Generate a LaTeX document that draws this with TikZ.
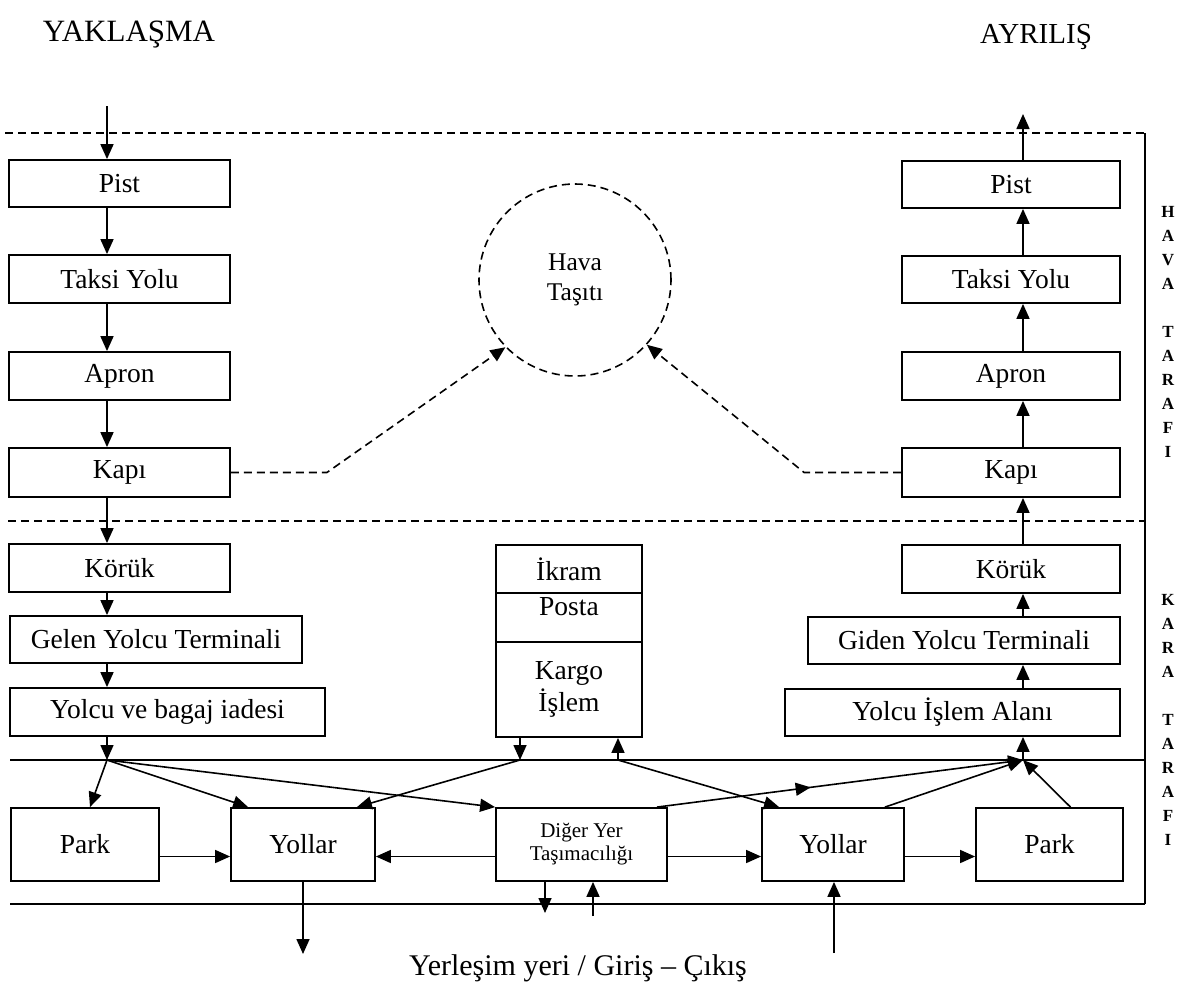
\documentclass[tikz,border=0pt]{standalone}
\usepackage{fontspec}
\setmainfont{Liberation Serif}
\usetikzlibrary{arrows.meta,calc,decorations.markings}
\begin{document}
\begin{tikzpicture}[x=1pt,y=-1pt,
  box/.style={draw, line width=1.8pt, inner sep=0pt, align=center,
    font=\fontsize{27.5}{32}\selectfont},
  plain/.style={inner sep=0pt, align=center, font=\fontsize{27.5}{32}\selectfont},
  frame/.style={line width=1.6pt},
  dashline/.style={line width=1.6pt, dash pattern=on 8pt off 5pt},
  tip/.style={-{Triangle[length=15pt,width=13pt]}},
  conn/.style={line width=1.6pt, tip},
  dashconn/.style={line width=1.6pt, dash pattern=on 8pt off 5pt, tip},
  midarrow/.style={postaction={decorate},
    decoration={markings, mark=at position 0.42 with {\arrow{Triangle[length=15pt,width=13pt]}}}},
  side/.style={inner sep=0pt, align=center, font=\fontsize{17}{24}\selectfont\bfseries},
]
\useasboundingbox (0,0) rectangle (1187,989);

% headings
\node[plain, font=\fontsize{31}{34}\selectfont] (yaklasma) at (129,35) {YAKLAŞMA};
\node[plain, font=\fontsize{29}{32}\selectfont] (ayrilis) at (1036,37) {AYRILIŞ};

% zone boundaries
\draw[dashline] (5,133) -- (1145,133);
\draw[frame] (1145,133) -- (1145,904);
\draw[dashline] (8,521) -- (1145,521);
\draw[frame] (10,760) -- (1145,760);
\draw[frame] (10,904) -- (1145,904);

% side labels
\node[side] (hava) at (1168,332) {H\\A\\V\\A\\\mbox{}\\T\\A\\R\\A\\F\\I};
\node[side] (kara) at (1168,720) {K\\A\\R\\A\\\mbox{}\\T\\A\\R\\A\\F\\I};

% arrival column
\node[box, minimum width=221, minimum height=47] (pistL)  at (119.5,183.5) {Pist};
\node[box, minimum width=221, minimum height=48] (taksiL) at (119.5,279) {Taksi Yolu};
\node[box, minimum width=221, minimum height=48] (apronL) at (119.5,376) {Apron};
\node[box, minimum width=221, minimum height=49] (kapiL)  at (119.5,472.5) {Kapı};
\node[box, minimum width=221, minimum height=48] (korukL) at (119.5,568) {Körük};
\node[box, minimum width=292, minimum height=47] (gelen)  at (156,639.5) {Gelen Yolcu Terminali};
\node[box, minimum width=315, minimum height=48] (yolcuL) at (167.5,712) {Yolcu ve bagaj iadesi};

% departure column
\node[box, minimum width=218, minimum height=47] (pistR)  at (1011,184.5) {Pist};
\node[box, minimum width=218, minimum height=47] (taksiR) at (1011,279.5) {Taksi Yolu};
\node[box, minimum width=218, minimum height=48] (apronR) at (1011,376) {Apron};
\node[box, minimum width=218, minimum height=49] (kapiR)  at (1011,472.5) {Kapı};
\node[box, minimum width=218, minimum height=48] (korukR) at (1011,569) {Körük};
\node[box, minimum width=312, minimum height=47] (giden)  at (964,640.5) {Giden Yolcu Terminali};
\node[box, minimum width=335, minimum height=47] (yolcuR) at (952.5,712.5) {Yolcu İşlem Alanı};

% central stack
\node[box, minimum width=146, minimum height=48] (ikram) at (569,569) {İkram};
\node[box, minimum width=146, minimum height=49] (posta) at (569,617.5) {};
\node[plain] (postaTxt) at (569,607) {Posta};
\node[box, minimum width=146, minimum height=95] (kargo) at (569,689.5) {Kargo\\İşlem};

% aircraft
\node[circle, draw, line width=1.6pt, dash pattern=on 8pt off 5pt, minimum size=192,
      inner sep=0pt, align=center, font=\fontsize{25.5}{30}\selectfont] (circ) at (575,280) {Hava\\Taşıtı};

% ground row
\node[box, minimum width=148, minimum height=73] (parkL)   at (85,844.5) {Park};
\node[box, minimum width=144, minimum height=73] (yollarL) at (303,844.5) {Yollar};
\node[box, minimum width=171, minimum height=73, font=\fontsize{21}{23}\selectfont] (diger) at (581.5,844.5) {Diğer Yer\\Taşımacılığı};
\node[box, minimum width=142, minimum height=73] (yollarR) at (833,844.5) {Yollar};
\node[box, minimum width=147, minimum height=73] (parkR)   at (1049.5,844.5) {Park};

\node[plain, font=\fontsize{30}{32}\selectfont] (yerlesim) at (578,968) {Yerleşim yeri / Giriş – Çıkış};

% reference points
\coordinate (axL) at (107,0);
\coordinate (axR) at (1023,0);
\coordinate (topL) at (107,106);
\coordinate (topR) at (1023,114);
\coordinate (jL) at (107,760);
\coordinate (jC1) at (520,760);
\coordinate (jC2) at (618,760);
\coordinate (jR) at (1023,760);
\coordinate (outYL) at (303,954);
\coordinate (dgDown) at (545,913);
\coordinate (dgUp) at (593,916);
\coordinate (inYR) at (834,953);

% arrival flow
\draw[conn] (topL) -- (pistL.north -| axL);
\foreach \a/\b in {pistL/taksiL, taksiL/apronL, apronL/kapiL, kapiL/korukL, korukL/gelen, gelen/yolcuL}
  \draw[conn] (\a.south -| axL) -- (\b.north -| axL);
\draw[conn] (yolcuL.south -| axL) -- (jL);

% departure flow
\draw[conn] (jR) -- (yolcuR.south -| axR);
\foreach \a/\b in {yolcuR/giden, giden/korukR, korukR/kapiR, kapiR/apronR, apronR/taksiR, taksiR/pistR}
  \draw[conn] (\a.north -| axR) -- (\b.south -| axR);
\draw[conn] (pistR.north -| axR) -- (topR);

% gates to aircraft
\draw[dashconn] (kapiL.east) -- ++(96,0) -- (circ.224);
\draw[dashconn] (kapiR.west) -- ++(-97,0) -- (circ.318);

% landside links
\draw[conn] (jL) -- ($(parkL.north)+(5,0)$);
\draw[conn] (jL) -- ($(yollarL.north west)+(18,0)$);
\draw[conn] (jL) -- (diger.north west);
\draw[conn] (kargo.south -| jC1) -- (jC1);
\draw[conn] (jC1) -- ($(yollarL.north east)+(-19,0)$);
\draw[conn] (jC2) -- (kargo.south -| jC2);
\draw[conn] (jC2) -- ($(yollarR.north west)+(18,0)$);
\draw[conn, midarrow] ($(diger.north east)+(-11,0)$) -- (jR);
\draw[conn] ($(yollarR.north east)+(-20,0)$) -- (jR);
\draw[conn] ($(parkR.north)+(21,0)$) -- (jR);

\draw[conn] ($(parkL.east)+(0,12)$) -- ($(yollarL.west)+(0,12)$);
\draw[conn] ($(diger.west)+(0,12)$) -- ($(yollarL.east)+(0,12)$);
\draw[conn] ($(diger.east)+(0,12)$) -- ($(yollarR.west)+(0,12)$);
\draw[conn] ($(yollarR.east)+(0,12)$) -- ($(parkR.west)+(0,12)$);

\draw[conn] (yollarL.south) -- (outYL);
\draw[conn] (diger.south -| dgDown) -- (dgDown);
\draw[conn] (dgUp) -- (diger.south -| dgUp);
\draw[conn] (inYR) -- (yollarR.south -| inYR);
\end{tikzpicture}
\end{document}
